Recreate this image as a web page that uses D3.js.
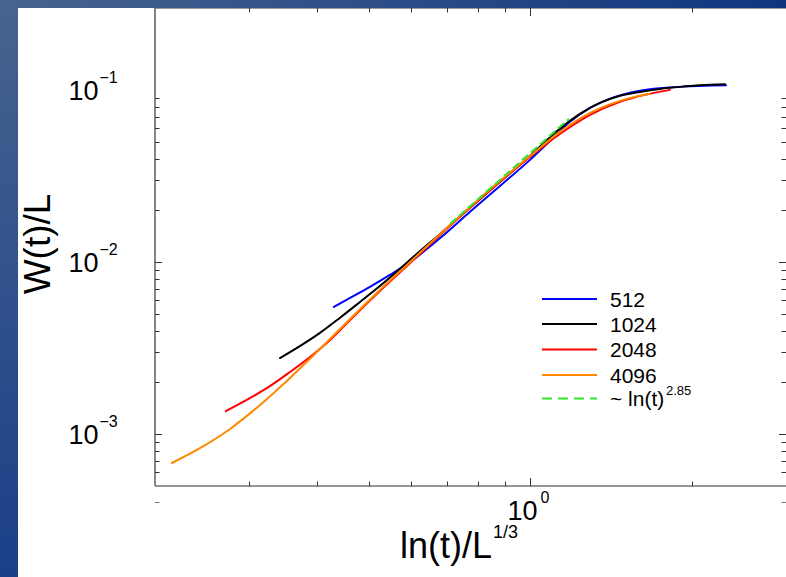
<!DOCTYPE html>
<html><head><meta charset="utf-8">
<script src="https://cdn.jsdelivr.net/npm/d3@7"></script>
<style>
body{margin:0;background:#fff;}
svg{display:block;font-family:"Liberation Sans",Arial,Helvetica,sans-serif;}
</style>
</head><body>
<svg id="chart" width="786" height="577"></svg>
<script>
// ---------- data ----------
const seriesNames = ["512", "1024", "2048", "4096"];
const seriesColors = ["#0000ff", "#000000", "#ff0000", "#ff8800"];

const data512 = [[0.431,5.49e-3],[0.462,6.19e-3],[0.503,7.18e-3],[0.548,8.43e-3],[0.598,1.003e-2],
  [0.680,1.38e-2],[0.773,1.96e-2],[0.879,2.77e-2],[1.0,3.93e-2],[1.090,5.07e-2],[1.187,6.54e-2],
  [1.294,7.88e-2],[1.409,8.89e-2],[1.603,9.90e-2],[1.903,0.1044],[2.319,0.1066]];
const data1024 = [[0.342,2.77e-3],[0.373,3.26e-3],[0.406,3.88e-3],[0.442,4.74e-3],[0.482,5.87e-3],
  [0.525,7.27e-3],[0.572,9.13e-3],[0.624,1.162e-2],[0.680,1.459e-2],[0.773,2.07e-2],[0.879,2.93e-2],
  [1.0,4.14e-2],[1.137,5.97e-2],[1.239,7.27e-2],[1.350,8.43e-2],[1.471,9.26e-2],[1.603,9.76e-2],
  [1.747,0.1016],[1.903,0.1044],[2.074,0.1066],[2.309,0.1080]];
const data2048 = [[0.271,1.36e-3],[0.301,1.624e-3],[0.328,1.908e-3],[0.357,2.30e-3],[0.389,2.812e-3],
  [0.424,3.53e-3],[0.462,4.614e-3],[0.525,6.806e-3],[0.598,9.90e-3],[0.680,1.44e-2],[0.773,2.07e-2],
  [0.879,2.93e-2],[1.0,4.09e-2],[1.137,5.56e-2],[1.294,7.18e-2],[1.471,8.54e-2],[1.637,9.38e-2],[1.823,0.1003]];
const data4096 = [[0.215,6.80e-4],[0.243,8.32e-4],[0.276,1.073e-3],[0.314,1.479e-3],[0.357,2.122e-3],
  [0.406,3.129e-3],[0.462,4.676e-3],[0.525,6.897e-3],[0.598,1.003e-2],[0.680,1.459e-2],[0.773,2.095e-2],
  [0.879,2.968e-2],[1.0,4.14e-2],[1.137,5.716e-2],[1.294,7.37e-2],[1.471,8.66e-2],[1.673,9.51e-2]];
const dataFit = [[0.7095,1.669e-2],[1.182,6.80e-2]];
const fitLabel = "~ ln(t)";
const fitExponent = "2.85";

const xDomain = [0.2, 3];
const yDomain = [5e-4, 0.3];
const xMajorTicks = [1];
const xMinorTicks = [0.3,0.4,0.5,0.6,0.7,0.8,0.9,2];
const yMajorTicks = [1e-3, 1e-2];
const yMinorTicks = [6e-4,7e-4,8e-4,9e-4,2e-3,3e-3,4e-3,5e-3,6e-3,7e-3,8e-3,9e-3,
  2e-2,3e-2,4e-2,5e-2,6e-2,7e-2,8e-2,9e-2];
const xTickLabels = [{v:1, base:"10", exp:"0"}];
const yTickLabels = [{v:0.1, base:"10", exp:"\u22121"},{v:0.01, base:"10", exp:"\u22122"},{v:0.001, base:"10", exp:"\u22123"}];

// ---------- drawing ----------
const svg = d3.select("#chart");
const W = 786, H = 577;
const L = 155, R = 786, T = 8, B = 486;

const defs = svg.append("defs");
const gTop = defs.append("linearGradient").attr("id","gTop").attr("x1","0").attr("x2","1").attr("y1","0").attr("y2","0");
gTop.append("stop").attr("offset","0").attr("stop-color","#46648f");
gTop.append("stop").attr("offset","1").attr("stop-color","#10357f");
const gLeft = defs.append("linearGradient").attr("id","gLeft").attr("x1","0").attr("x2","0").attr("y1","0").attr("y2","1");
gLeft.append("stop").attr("offset","0").attr("stop-color","#46648f");
gLeft.append("stop").attr("offset","1").attr("stop-color","#1b3f88");

svg.append("rect").attr("width",W).attr("height",H).attr("fill","#fff");
svg.append("rect").attr("x",0).attr("y",0).attr("width",18).attr("height",H).attr("fill","url(#gLeft)");
svg.append("rect").attr("x",0).attr("y",0).attr("width",W).attr("height",8).attr("fill","url(#gTop)");

const x = d3.scaleLog().domain(xDomain).range([L, R]);
const y = d3.scaleLog().domain(yDomain).range([B, T]);

const axisColor = "#6f6f6f", tickColor = "#333";
svg.append("line").attr("x1",L).attr("x2",R).attr("y1",T+0.5).attr("y2",T+0.5).attr("stroke","#9a9a9a").attr("stroke-width",1);
svg.append("line").attr("x1",L).attr("x2",L).attr("y1",T).attr("y2",B).attr("stroke",axisColor).attr("stroke-width",1.7);
svg.append("line").attr("x1",L).attr("x2",R).attr("y1",B).attr("y2",B).attr("stroke",axisColor).attr("stroke-width",1.7);

function xt(vals, len){
  vals.forEach(v=>{
    const px = Math.round(x(v))+0.5;
    svg.append("line").attr("x1",px).attr("x2",px).attr("y1",B).attr("y2",B-len).attr("stroke",tickColor).attr("stroke-width",1);
    svg.append("line").attr("x1",px).attr("x2",px).attr("y1",T).attr("y2",T+len).attr("stroke",tickColor).attr("stroke-width",1);
  });
}
function yt(vals, len){
  vals.forEach(v=>{
    const py = Math.round(y(v))+0.5;
    svg.append("line").attr("x1",L).attr("x2",L+len).attr("y1",py).attr("y2",py).attr("stroke",tickColor).attr("stroke-width",1);
    svg.append("line").attr("x1",R).attr("x2",R-len).attr("y1",py).attr("y2",py).attr("stroke",tickColor).attr("stroke-width",1);
  });
}
xt(xMinorTicks, 4.5); xt(xMajorTicks, 8);
yt(yMinorTicks, 4.5); yt(yMajorTicks, 7);

svg.append("line").attr("x1",155).attr("x2",159.5).attr("y1",502.5).attr("y2",502.5).attr("stroke","#777").attr("stroke-width",1);
svg.append("line").attr("x1",781.5).attr("x2",786).attr("y1",502.5).attr("y2",502.5).attr("stroke","#777").attr("stroke-width",1);

yTickLabels.forEach(d=>{
  const py = y(d.v);
  svg.append("text").attr("x",98.5).attr("y",py+9.5).attr("text-anchor","end").attr("font-size",27).attr("fill","#000").text(d.base);
  svg.append("text").attr("x",99.5).attr("y",py-7).attr("font-size",16).attr("fill","#000").text(d.exp);
});
xTickLabels.forEach(d=>{
  const px = x(d.v);
  svg.append("text").attr("x",px+7.5).attr("y",520).attr("text-anchor","end").attr("font-size",27).attr("fill","#000").text(d.base);
  svg.append("text").attr("x",px+10.5).attr("y",503).attr("font-size",16).attr("fill","#000").text(d.exp);
});

svg.append("text").attr("x",400).attr("y",558).attr("font-size",36).attr("fill","#000").text("ln(t)/L");
svg.append("text").attr("x",493).attr("y",538).attr("font-size",18).attr("fill","#000").text("1/3");
svg.append("text").attr("transform","translate(50,244) rotate(-90)").attr("text-anchor","middle")
  .attr("font-size",37).attr("fill","#000").text("W(t)/L");

const line = d3.line().x(d=>x(d[0])).y(d=>y(d[1])).curve(d3.curveMonotoneX);
const allSeries = [data512, data1024, data2048, data4096];
allSeries.forEach((s,i)=>{
  svg.append("path").datum(s).attr("d",line).attr("fill","none")
    .attr("stroke",seriesColors[i]).attr("stroke-width",2).attr("stroke-linejoin","round").attr("stroke-linecap","round");
});
svg.append("path").datum(dataFit).attr("d",d3.line().x(d=>x(d[0])).y(d=>y(d[1]))).attr("fill","none")
  .attr("stroke","#2ee62e").attr("stroke-width",2).attr("stroke-dasharray","8,4");

const legY = [299, 324, 349.5, 375, 398.5];
seriesNames.forEach((n,i)=>{
  svg.append("line").attr("x1",542).attr("x2",597).attr("y1",legY[i]).attr("y2",legY[i]).attr("stroke",seriesColors[i]).attr("stroke-width",2);
  svg.append("text").attr("x",610).attr("y",legY[i]+7.5).attr("font-size",21).attr("fill","#000").text(n);
});
svg.append("line").attr("x1",542).attr("x2",597).attr("y1",legY[4]).attr("y2",legY[4]).attr("stroke","#2ee62e").attr("stroke-width",2).attr("stroke-dasharray","10,6");
svg.append("text").attr("x",610).attr("y",legY[4]+7.5).attr("font-size",21).attr("fill","#000").text(fitLabel);
svg.append("text").attr("x",666).attr("y",legY[4]-4).attr("font-size",13).attr("fill","#000").text(fitExponent);
</script>
</body></html>
